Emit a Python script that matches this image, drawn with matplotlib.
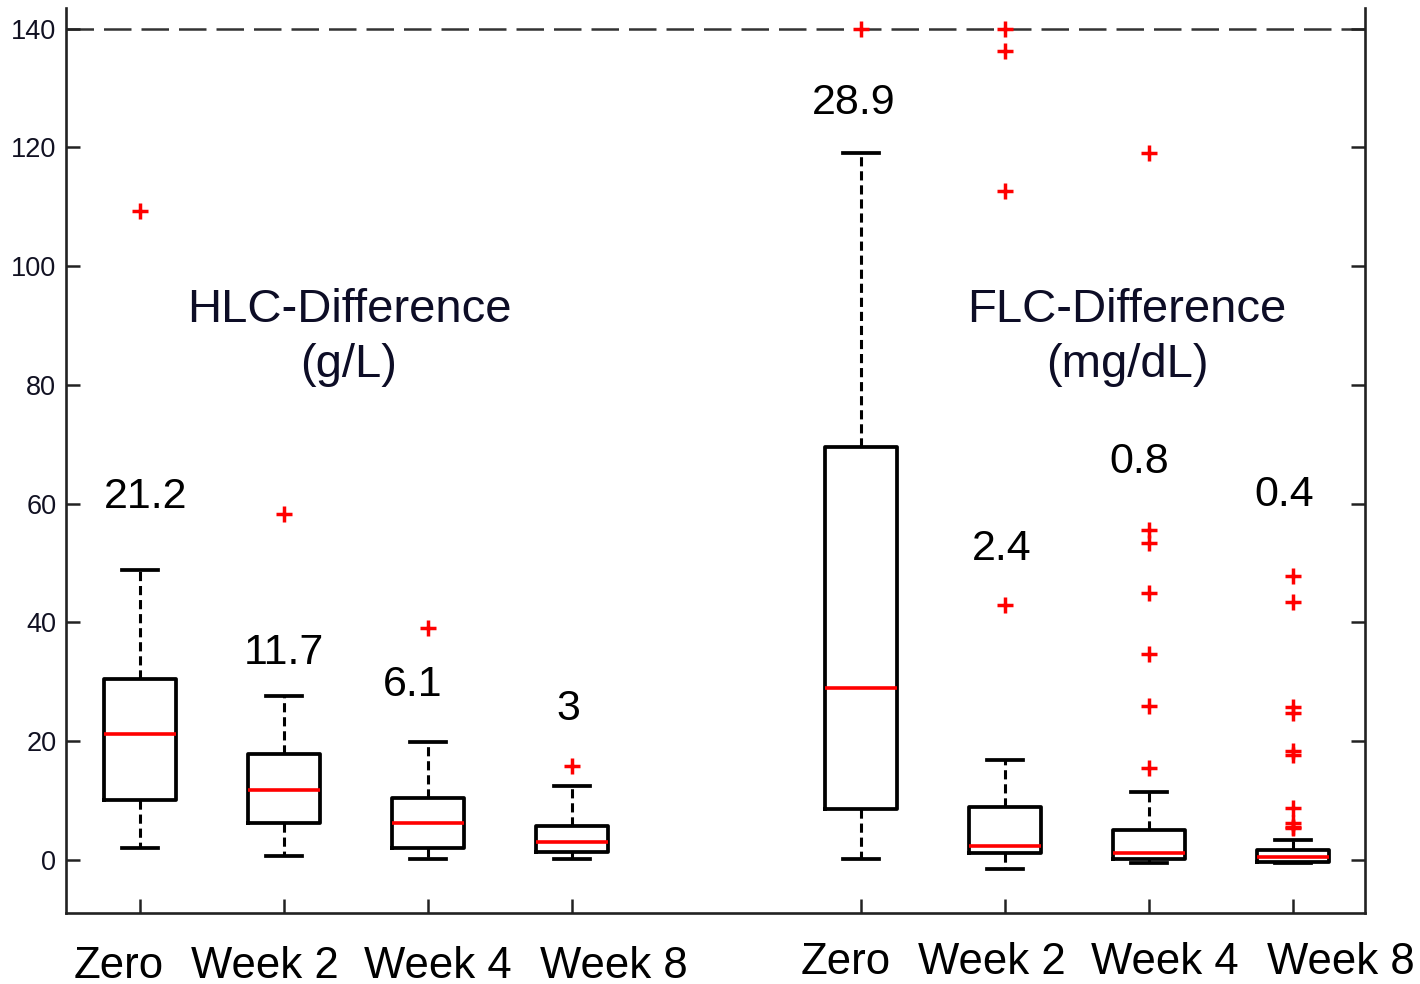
import matplotlib
matplotlib.use("Agg")
import matplotlib.pyplot as plt

plt.rcParams['font.family'] = ['Liberation Sans', 'DejaVu Sans']

# box positions (gap between the two groups)
positions = [1, 2, 3, 4, 6, 7, 8, 9]
groups = ["Zero", "Week 2", "Week 4", "Week 8"]

# five-number summaries
whislo = [2.0, 0.7, 0.2, 0.2, 0.2, -1.5, -0.5, -0.5]
q1 = [10.1, 6.2, 2.0, 1.3, 8.6, 1.1, 0.2, -0.3]
med = [21.2, 11.8, 6.2, 3.0, 29.0, 2.4, 1.1, 0.5]
q3 = [30.5, 17.9, 10.4, 5.7, 69.6, 8.9, 5.1, 1.7]
whishi = [48.9, 27.6, 19.9, 12.5, 119.1, 16.8, 11.5, 3.3]
fliers = [
    [109.3],
    [58.3],
    [39.1],
    [15.8],
    [140.0],
    [43.0, 112.7, 136.3, 140.0],
    [15.5, 25.9, 34.7, 45.0, 53.4, 55.6, 119.1],
    [5.4, 5.6, 6.2, 8.8, 17.7, 18.4, 24.8, 25.8, 43.5, 47.8],
]

# median annotations and their heights
med_labels = ["21.2", "11.7", "6.1", "3", "28.9", "2.4", "0.8", "0.4"]
label_x = [1.04, 2.0, 2.89, 3.97, 5.95, 6.98, 7.93, 8.94]
label_y = [61.2, 34.9, 29.5, 25.4, 127.5, 52.4, 67.0, 61.5]

# category labels under the axis
cat_x = [0.854, 1.868, 3.07, 4.29, 5.896, 6.91, 8.11, 9.33]
cat_y = [-17.9, -17.9, -17.9, -17.9, -17.2, -17.2, -17.2, -17.2]

titles = ["HLC-Difference\n(g/L)", "FLC-Difference\n(mg/dL)"]
title_x = [2.45, 7.85]

stats = []
for i in range(len(positions)):
    stats.append(dict(whislo=whislo[i], q1=q1[i], med=med[i], q3=q3[i],
                      whishi=whishi[i], fliers=fliers[i]))

fig = plt.figure(figsize=(14.2, 9.84), dpi=100)
ax = fig.add_axes([0.0465, 0.0722, 0.9148, 0.9197])

ax.bxp(stats, positions=positions, widths=0.5,
       boxprops=dict(color='black', linewidth=2.7),
       whiskerprops=dict(color='black', linewidth=2.2, linestyle=(0, (3, 1.6))),
       capprops=dict(color='black', linewidth=2.7),
       medianprops=dict(color='red', linewidth=2.6),
       flierprops=dict(marker='+', markeredgecolor='red', markersize=11.5,
                       markeredgewidth=2.5),
       capwidths=0.25)

ax.axhline(140, color='#333333', linewidth=1.8, linestyle=(0, (11, 4)), zorder=0)

for x, y, s in zip(label_x, label_y, med_labels):
    ax.text(x, y, s, ha='center', va='center', fontsize=31, color='black')

for i, (x, y) in enumerate(zip(cat_x, cat_y)):
    ax.text(x, y, groups[i % 4], ha='center', va='center', fontsize=31.5,
            color='black', clip_on=False)

for x, t in zip(title_x, titles):
    ax.text(x, 88.0, t, ha='center', va='center', fontsize=34,
            color='#0d0d26', linespacing=1.3)

ax.set_xlim(0.487, 9.5)
ax.set_ylim(-8.93, 143.5)
ax.set_yticks(range(0, 141, 20))
ax.set_xticks(positions)
ax.set_xticklabels([])
ax.tick_params(axis='y', direction='in', length=10, width=1.8, labelsize=19.5,
               right=True, colors='#222222', labelcolor='#111122', pad=7)
ax.tick_params(axis='x', direction='in', length=10, width=1.8, colors='#222222')

for side in ['left', 'right', 'bottom']:
    ax.spines[side].set_linewidth(1.9)
    ax.spines[side].set_color('#222222')
ax.spines['top'].set_visible(False)

fig.savefig("out.png", dpi=100)
